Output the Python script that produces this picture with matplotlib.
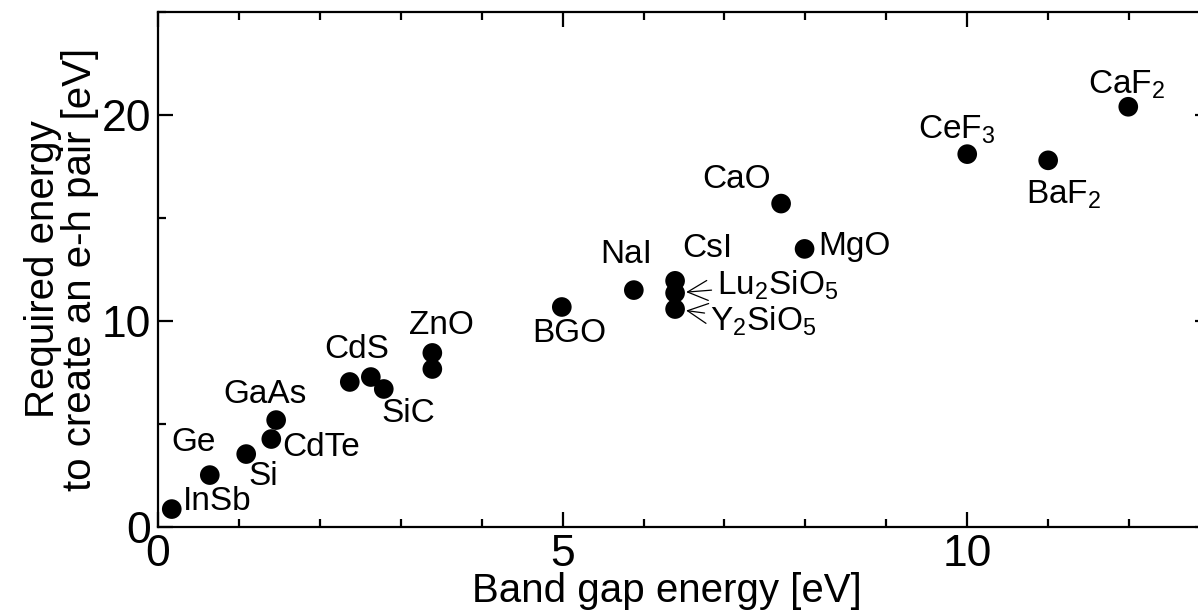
import matplotlib
matplotlib.use("Agg")
import matplotlib.pyplot as plt
from matplotlib.ticker import MultipleLocator

plt.rcParams["font.family"] = ["Liberation Sans", "DejaVu Sans"]
plt.rcParams["mathtext.fontset"] = "custom"
plt.rcParams["mathtext.rm"] = "Liberation Sans"

# band gap [eV] and e-h pair creation energy [eV]
materials = ["InSb", "Ge", "Si", "CdTe", "GaAs", "CdS_a", "CdS_b", "SiC",
             "ZnO_a", "ZnO_b", "BGO", "NaI", "CsI", "Lu2SiO5", "Y2SiO5",
             "MgO", "CaO", "CeF3", "BaF2", "CaF2"]
band_gap = [0.17, 0.64, 1.09, 1.40, 1.46, 2.37, 2.63, 2.79,
            3.39, 3.39, 4.99, 5.88, 6.39, 6.39, 6.39,
            7.99, 7.70, 10.0, 11.0, 11.99]
pair_energy = [0.87, 2.52, 3.54, 4.27, 5.19, 7.04, 7.28, 6.70,
               8.45, 7.67, 10.68, 11.5, 11.95, 11.36, 10.58,
               13.5, 15.7, 18.1, 17.8, 20.4]

# label text, offset in pixels from the dot, horizontal alignment
labels = {
    "InSb": ("InSb", (11, 8), "left"),
    "Ge": ("Ge", (-16, 33), "center"),
    "Si": ("Si", (17, -22), "center"),
    "CdTe": ("CdTe", (11, -8), "left"),
    "GaAs": ("GaAs", (-11, 26), "center"),
    "CdS_a": ("CdS", (7, 32), "center"),
    "SiC": ("SiC", (25, -25), "center"),
    "ZnO_a": ("ZnO", (9, 27), "center"),
    "BGO": ("BGO", (8, -27), "center"),
    "NaI": ("NaI", (-8, 36), "center"),
    "CsI": ("CsI", (32, 32), "center"),
    "MgO": ("MgO", (14, 2), "left"),
    "CaO": ("CaO", (-45, 24), "center"),
    "CeF3": ("CeF$\\mathregular{_3}$", (-11, 24), "center"),
    "BaF2": ("BaF$\\mathregular{_2}$", (15, -34), "center"),
    "CaF2": ("CaF$\\mathregular{_2}$", (-2, 22), "center"),
}
arrow_labels = {
    "Lu2SiO5": ("Lu$\\mathregular{_2}$SiO$\\mathregular{_5}$", (42, 8)),
    "Y2SiO5": ("Y$\\mathregular{_2}$SiO$\\mathregular{_5}$", (35, -12)),
}

fig = plt.figure(figsize=(11.98, 6.16), dpi=100)
ax = fig.add_axes([158 / 1198, 89 / 616, 1052 / 1198, 515 / 616])

ax.scatter(band_gap, pair_energy, s=200, color="black", zorder=3,
           edgecolors="none")

for name, x, y in zip(materials, band_gap, pair_energy):
    if name in labels:
        text, off, ha = labels[name]
        ax.annotate(text, (x, y), xytext=off, textcoords="offset pixels",
                    ha=ha, va="center", fontsize=24)
    elif name in arrow_labels:
        text, off = arrow_labels[name]
        ax.annotate(text, (x, y), xytext=off, textcoords="offset pixels",
                    ha="left", va="center", fontsize=24,
                    arrowprops=dict(arrowstyle="->,head_length=0.6,head_width=0.3",
                                    lw=0.9, color="black", shrinkA=2, shrinkB=8))

ax.set_xlim(0, 13)
ax.set_ylim(0, 25)
ax.xaxis.set_major_locator(MultipleLocator(5))
ax.xaxis.set_minor_locator(MultipleLocator(1))
ax.yaxis.set_major_locator(MultipleLocator(10))
ax.yaxis.set_minor_locator(MultipleLocator(5))
ax.tick_params(which="both", direction="in", top=True, right=True,
               width=1.6, labelsize=32, pad=5)
ax.tick_params(which="major", length=11)
ax.tick_params(which="minor", length=6)
for sp in ax.spines.values():
    sp.set_linewidth(1.6)

ax.set_xlabel("Band gap energy [eV]", fontsize=29)
ax.xaxis.set_label_coords(0.484, -0.088)
ax.set_ylabel("Required energy\nto create an e-h pair [eV]", fontsize=29,
              labelpad=2, linespacing=0.95)

fig.savefig("out.png", dpi=100)
